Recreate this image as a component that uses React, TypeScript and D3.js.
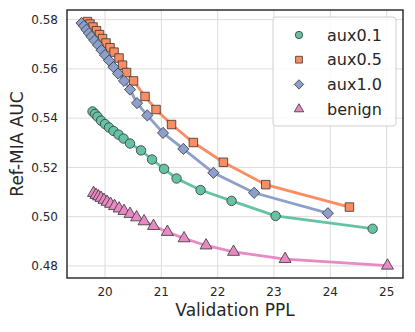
import * as d3 from "d3";

// Validation PPL (x) and Ref-MIA AUC (y)
const aux01X = [19.778, 19.822, 19.867, 19.929, 20.0, 20.071, 20.151, 20.24, 20.329, 20.444, 20.639, 20.835, 21.048, 21.27, 21.696, 22.247, 23.028, 24.751];
const aux01Y = [0.5427, 0.5417, 0.5406, 0.539, 0.5376, 0.5362, 0.5348, 0.5333, 0.5317, 0.5297, 0.5269, 0.5232, 0.5194, 0.5155, 0.5108, 0.5064, 0.5003, 0.4951];

const aux05X = [19.689, 19.734, 19.787, 19.849, 19.902, 19.956, 20.018, 20.089, 20.16, 20.249, 20.311, 20.382, 20.506, 20.71, 20.906, 21.181, 21.568, 22.101, 22.854, 24.339];
const aux05Y = [0.5792, 0.5782, 0.577, 0.5755, 0.5739, 0.5723, 0.5705, 0.5686, 0.5668, 0.5644, 0.5615, 0.5585, 0.5551, 0.5488, 0.5435, 0.5374, 0.5301, 0.5221, 0.513, 0.5039];

const aux10X = [19.583, 19.627, 19.671, 19.716, 19.76, 19.814, 19.876, 19.938, 20.0, 20.071, 20.151, 20.231, 20.337, 20.444, 20.568, 20.751, 21.03, 21.391, 21.924, 22.647, 23.956];
const aux10Y = [0.5786, 0.5774, 0.5759, 0.5745, 0.5731, 0.5715, 0.5697, 0.5676, 0.5656, 0.5634, 0.5607, 0.5581, 0.5551, 0.5516, 0.5461, 0.5411, 0.534, 0.5275, 0.5178, 0.5097, 0.5014];

const benignX = [19.796, 19.84, 19.885, 19.929, 19.982, 20.036, 20.098, 20.169, 20.249, 20.337, 20.444, 20.56, 20.693, 20.861, 21.107, 21.403, 21.794, 22.282, 23.197, 25.014];
const benignY = [0.5096, 0.5088, 0.5082, 0.5076, 0.5068, 0.506, 0.5052, 0.5043, 0.5033, 0.5023, 0.5011, 0.4997, 0.4981, 0.4962, 0.4938, 0.4912, 0.4883, 0.4857, 0.4828, 0.4801];

const xTicks = [20, 21, 22, 23, 24, 25];
const yTicks = [0.48, 0.5, 0.52, 0.54, 0.56, 0.58];

const series = [
  {name: "aux0.1", xs: aux01X, ys: aux01Y, color: "#66c2a5", symbol: d3.symbolCircle},
  {name: "aux0.5", xs: aux05X, ys: aux05Y, color: "#fc8d62", symbol: d3.symbolSquare},
  {name: "aux1.0", xs: aux10X, ys: aux10Y, color: "#8da0cb", symbol: d3.symbolDiamond2},
  {name: "benign", xs: benignX, ys: benignY, color: "#e78ac3", symbol: d3.symbolTriangle},
];

const width = 415;
const height = 332;
const left = 67;
const right = 403;
const top = 10;
const bottom = 278;
const font = "DejaVu Sans, sans-serif";

export default function App() {
  const x = d3.scaleLinear([19.325, 25.29], [left, right]);
  const y = d3.scaleLinear([0.4751, 0.5839], [bottom, top]);
  const line = d3.line<number>().x(d => d[0]).y(d => d[1]);
  const markerSize = {"aux0.1": 70, "aux0.5": 72, "aux1.0": 80, "benign": 62};
  const legendSize = {"aux0.1": 42, "aux0.5": 46, "aux1.0": 56, "benign": 38};

  return (
    <svg width={width} height={height} style={{position: "absolute", left: 0, top: 0}} fontFamily={font}>
      <rect width={width} height={height} fill="white" />
      <g stroke="#dcdcdc" strokeWidth={1}>
        {xTicks.map(t => <line key={t} x1={x(t)} x2={x(t)} y1={top} y2={bottom} />)}
        {yTicks.map(t => <line key={t} x1={left} x2={right} y1={y(t)} y2={y(t)} />)}
      </g>
      {series.map(s => (
        <path key={s.name} fill="none" stroke={s.color} strokeWidth={2.8}
          d={line(s.xs.map((v, i) => [x(v), y(s.ys[i])]) as any) || ""} />
      ))}
      {series.map(s => (
        <g key={s.name} fill={s.color} stroke="#333" strokeWidth={0.8}>
          {s.xs.map((v, i) => (
            <path key={i} transform={`translate(${x(v)},${y(s.ys[i])})`}
              d={d3.symbol(s.symbol, markerSize[s.name])() || ""} />
          ))}
        </g>
      ))}
      <rect x={left} y={top} width={right - left} height={bottom - top} fill="none" stroke="#111" strokeWidth={1.3} />
      <g fontSize={12} fill="#262626">
        {xTicks.map(t => <text key={t} x={x(t)} y={296} textAnchor="middle">{t}</text>)}
        {yTicks.map(t => <text key={t} x={58} y={y(t) + 4.3} textAnchor="end">{t.toFixed(2)}</text>)}
      </g>
      <text x={(left + right) / 2} y={316} textAnchor="middle" fontSize={17} fill="#262626">Validation PPL</text>
      <text transform={`translate(23,${(top + bottom) / 2}) rotate(-90)`} textAnchor="middle" fontSize={17} fill="#262626">Ref-MIA AUC</text>
      <g>
        <rect x={273} y={17} width={123} height={109} rx={3} fill="white" fillOpacity={0.85} stroke="#d0d0d0" strokeWidth={1} />
        {series.map((s, i) => (
          <g key={s.name} transform={`translate(0,${35 + i * 24.7})`}>
            <path transform="translate(299,0)" fill={s.color} stroke="#333" strokeWidth={0.8}
              d={d3.symbol(s.symbol, legendSize[s.name])() || ""} />
            <text x={327} y={5.5} fontSize={16} fill="#262626">{s.name}</text>
          </g>
        ))}
      </g>
    </svg>
  );
}
